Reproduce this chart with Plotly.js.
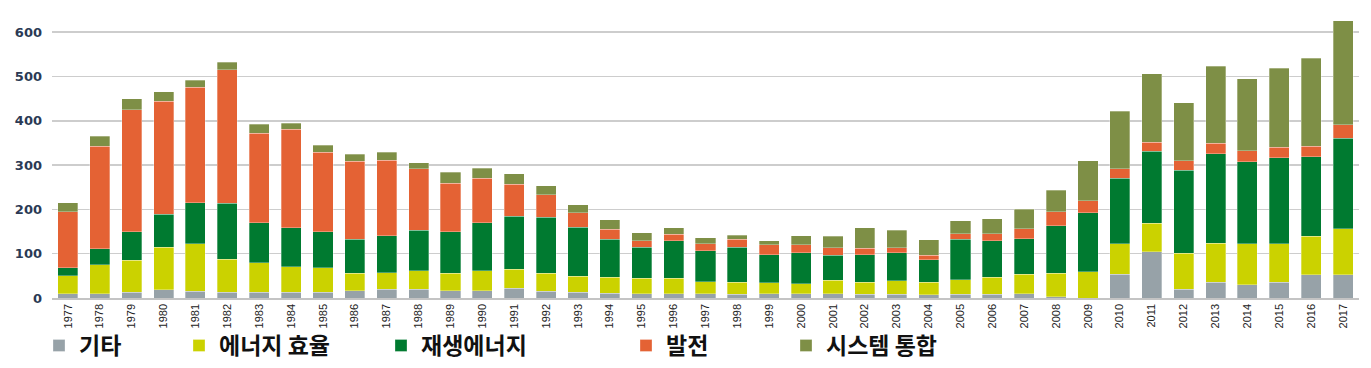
<!DOCTYPE html>
<html>
<head>
<meta charset="utf-8">
<script src="https://cdn.plot.ly/plotly-3.0.1.min.js"></script>
<style>
html,body{margin:0;padding:0;background:#fff;}
#chart{width:1371px;height:368px;}
</style>
</head>
<body>
<div id="chart"></div>
<script>
const years = ["1977","1978","1979","1980","1981","1982","1983","1984","1985","1986","1987","1988","1989","1990","1991","1992","1993","1994","1995","1996","1997","1998","1999","2000","2001","2002","2003","2004","2005","2006","2007","2008","2009","2010","2011","2012","2013","2014","2015","2016","2017"];
const seriesNames = ["기타","에너지 효율","재생에너지","발전","시스템 통합"];
const other      = [10,10,13,19,15,13,13,13,13,16,20,20,16,16,22,15,13,11,10,10,10,8,10,10,10,8,8,7,8,8,10,3,0,54,104,20,35,30,35,52,52];
const efficiency = [40,65,72,95,108,74,67,58,55,40,37,42,40,45,43,41,36,36,35,35,27,27,24,22,30,27,31,28,33,39,44,53,59,69,65,81,89,92,87,87,104];
const renewable  = [18,36,64,75,92,127,90,87,82,77,83,91,94,109,120,126,111,86,70,84,70,80,64,70,57,63,63,51,92,82,80,107,133,147,162,187,202,185,195,180,204];
const generation = [127,231,276,255,261,301,202,223,179,176,171,139,109,100,72,51,32,22,14,15,16,18,22,18,16,14,11,10,12,16,22,32,28,22,21,22,23,25,23,23,31];
const integration= [20,23,25,21,16,17,20,13,16,16,18,13,25,23,23,20,19,22,18,15,13,9,9,20,26,46,40,36,29,34,44,48,90,130,154,131,174,163,178,199,235];

const seriesValues = [other, efficiency, renewable, generation, integration];
const colors = ["#97A2A8","#CBD200","#007A30","#E46234","#7E8F46"];
const legendIds = ["legend","legend2","legend3","legend4","legend5"];

const traces = seriesValues.map((vals, i) => ({
  type: "bar",
  name: seriesNames[i],
  x: years,
  y: vals,
  marker: {color: colors[i], line: {color: "rgba(255,255,255,0.5)", width: 0.6}},
  legend: legendIds[i],
  hoverinfo: "x+y+name"
}));

const legendFont = {family: "Noto Sans CJK KR, Noto Sans, sans-serif", size: 23, color: "#111", weight: "bold"};
const W = 1307, L = 52;
const legendLeftPx = [39, 179, 381, 626, 786];
const layout = {
  width: 1371, height: 368,
  margin: {l: 52, r: 12, t: 10, b: 70, autoexpand: false},
  paper_bgcolor: "#fff", plot_bgcolor: "#fff",
  barmode: "stack",
  bargap: 0.37,
  showlegend: true,
  xaxis: {
    type: "category",
    range: [-0.5, 40.5],
    tickangle: -90,
    tickfont: {family: "Liberation Sans, Arial, sans-serif", size: 11, color: "#222"},
    showline: true, linecolor: "#c4c4c4", linewidth: 1.5,
    showgrid: false, ticks: "", fixedrange: true, automargin: false
  },
  yaxis: {
    range: [0, 650],
    tickvals: [0,100,200,300,400,500,600],
    ticktext: ["0","100","200","300","400","500","600"],
    tickfont: {family: "DejaVu Sans, sans-serif", size: 13, color: "#2B3A55", weight: "bold"},
    showgrid: true, gridcolor: "#cdcdcd", gridwidth: 1.5,
    zeroline: false, showline: false, ticks: "",
    ticklabelstandoff: 9, fixedrange: true, automargin: false
  }
};
legendIds.forEach((id, i) => {
  layout[id] = {
    orientation: "h",
    x: (legendLeftPx[i] - L) / W,
    xanchor: "left",
    y: -0.165, yanchor: "middle",
    font: legendFont,
    bgcolor: "rgba(0,0,0,0)",
    itemwidth: 30
  };
});

Plotly.newPlot("chart", traces, layout, {displayModeBar: false, staticPlot: true});
</script>
</body>
</html>
